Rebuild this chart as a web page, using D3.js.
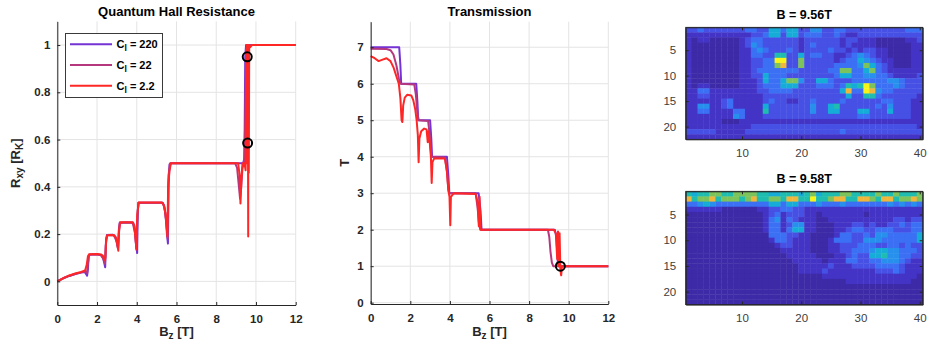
<!DOCTYPE html>
<html>
<head>
<meta charset="utf-8">
<script src="https://cdn.jsdelivr.net/npm/d3@7"></script>
<style>
  body { margin: 0; background: #fff; }
  svg { display: block; font-family: "Liberation Sans", Arial, sans-serif; }
</style>
</head>
<body>
<svg id="chart" width="928" height="344"></svg>
<script>
// ---- data ----
const bTicks = [0, 2, 4, 6, 8, 10, 12];
const rxyTicks = [0, 0.2, 0.4, 0.6, 0.8, 1];
const tTicks = [0, 1, 2, 3, 4, 5, 6, 7];
const ciLabels = ["220", "22", "2.2"];

// [Bz, Rxy]
const rxy220 = [[0,0],[0.3,0.013],[0.6,0.023],[0.9,0.031],[1.2,0.037],[1.38,0.04],[1.44,0.032],[1.5,0.024],[1.54,0.05],[1.58,0.108],[1.65,0.114],[2.0,0.115],[2.2,0.112],[2.3,0.1],[2.37,0.075],[2.41,0.06],[2.45,0.17],[2.5,0.196],[2.8,0.197],[2.92,0.19],[3.0,0.165],[3.06,0.14],[3.1,0.22],[3.14,0.248],[3.5,0.25],[3.82,0.248],[3.9,0.22],[3.96,0.16],[4.02,0.12],[4.05,0.3],[4.09,0.333],[5.3,0.333],[5.38,0.32],[5.45,0.28],[5.52,0.2],[5.57,0.16],[5.6,0.42],[5.65,0.495],[5.75,0.5],[9.35,0.5],[9.42,0.52],[9.46,0.95],[9.5,1.0],[12,1.0]];
const rxy22 = [[0,0],[0.3,0.013],[0.6,0.023],[0.9,0.031],[1.2,0.038],[1.42,0.042],[1.5,0.035],[1.55,0.08],[1.6,0.113],[2.0,0.115],[2.2,0.11],[2.32,0.095],[2.4,0.075],[2.44,0.15],[2.5,0.195],[2.85,0.195],[2.98,0.17],[3.05,0.14],[3.1,0.2],[3.15,0.248],[3.8,0.248],[3.92,0.2],[3.98,0.14],[4.03,0.25],[4.08,0.333],[5.3,0.333],[5.4,0.31],[5.5,0.24],[5.56,0.18],[5.6,0.45],[5.68,0.5],[8.95,0.5],[9.05,0.48],[9.12,0.42],[9.2,0.35],[9.26,0.4],[9.32,0.48],[9.4,0.5],[9.47,0.7],[9.52,0.98],[9.58,1.0],[12,1.0]];
const rxy2p2 = [[0,0],[0.3,0.014],[0.6,0.025],[0.9,0.033],[1.2,0.04],[1.4,0.046],[1.48,0.07],[1.54,0.105],[1.6,0.115],[2.0,0.116],[2.2,0.114],[2.3,0.108],[2.38,0.09],[2.42,0.1],[2.46,0.18],[2.52,0.195],[2.85,0.196],[2.95,0.185],[3.02,0.16],[3.07,0.13],[3.1,0.21],[3.16,0.25],[3.8,0.25],[3.88,0.235],[3.94,0.18],[3.98,0.135],[4.02,0.28],[4.1,0.334],[5.25,0.334],[5.35,0.325],[5.44,0.29],[5.5,0.24],[5.54,0.19],[5.58,0.4],[5.65,0.47],[5.72,0.5],[9.1,0.5],[9.18,0.45],[9.22,0.33],[9.26,0.42],[9.32,0.5],[9.42,0.5],[9.48,0.47],[9.5,0.98],[9.52,0.6],[9.54,1.0],[9.56,0.5],[9.58,0.98],[9.6,0.55],[9.61,0.19],[9.62,1.0],[9.64,0.46],[9.66,1.0],[9.7,0.99],[9.8,1.0],[12,1.0]];

// [Bz, T]
const tr220 = [[0,7.0],[1.0,7.0],[1.44,7.0],[1.5,6.5],[1.54,6.0],[2.3,6.0],[2.36,5.5],[2.4,5.0],[3.0,5.0],[3.06,4.5],[3.1,4.0],[3.85,4.0],[3.92,3.5],[3.97,3.0],[5.45,3.0],[5.55,2.5],[5.6,2.0],[9.3,2.0],[9.38,1.8],[9.45,1.1],[9.5,1.0],[12,1.0]];
const tr22 = [[0,6.96],[0.8,6.95],[1.0,6.92],[1.15,6.8],[1.3,6.5],[1.42,6.15],[1.5,6.0],[2.2,5.98],[2.28,5.7],[2.36,5.2],[2.42,5.0],[2.9,4.98],[2.98,4.6],[3.05,4.1],[3.1,4.0],[3.75,3.98],[3.85,3.6],[3.92,3.1],[3.97,3.0],[5.3,3.0],[5.4,2.6],[5.48,2.1],[5.55,2.0],[8.95,2.0],[9.02,1.8],[9.08,1.4],[9.15,1.1],[9.22,1.0],[12,1.0]];
const tr2p2 = [[0,6.76],[0.2,6.7],[0.4,6.62],[0.6,6.66],[0.8,6.7],[1.0,6.62],[1.15,6.45],[1.3,6.2],[1.42,6.0],[1.5,5.6],[1.56,5.0],[1.6,4.95],[1.64,5.4],[1.72,5.62],[1.85,5.7],[2.05,5.68],[2.15,5.55],[2.25,5.3],[2.32,5.0],[2.38,4.6],[2.42,3.85],[2.46,4.5],[2.55,4.7],[2.7,4.77],[2.82,4.75],[2.88,4.4],[2.92,4.7],[2.98,4.4],[3.04,4.0],[3.08,3.28],[3.12,3.85],[3.2,3.95],[3.75,3.95],[3.85,3.6],[3.93,3.05],[3.98,2.9],[4.02,2.12],[4.05,2.9],[4.12,2.95],[4.2,3.0],[5.3,2.98],[5.4,2.75],[5.46,2.1],[5.5,2.9],[5.54,2.0],[5.7,2.0],[9.25,2.0],[9.35,1.9],[9.42,1.2],[9.46,1.95],[9.5,1.0],[9.54,1.9],[9.58,0.9],[9.62,0.75],[9.66,1.0],[12,1.0]];

// marked points
const rxyMarks = [[9.56, 0.95], [9.58, 0.585]];
const trMarks = [[9.58, 1.0]];

// LDOS maps, colour level 0..9 per cell, 22 rows x 40 columns
const mapTitles = ["B = 9.56T", "B = 9.58T"];
const mapXTicks = [10, 20, 30, 40];
const mapYTicks = [5, 10, 15, 20];
const heat956 = [
  "2232222222 3322553552 2442233222 2222222333",
  "1111111111 1223552552 3332232112 2222222222",
  "1011000001 2332222221 2222221221 1100000112",
  "1000000001 2432222221 2322221211 1100000011",
  "1000000001 1343222321 2222322121 2211000011",
  "1000000001 1332266225 2332211234 3211000011",
  "1000000001 1223399227 2222212335 4321100011",
  "1000000001 1223378227 2222233334 7532100011",
  "1000000001 1233333332 2222337733 5732111111",
  "1000000001 1225333222 2222235533 4433211112",
  "1000000001 1125335774 2255322233 3333443222",
  "1011000001 1123335552 2233323656 9733343222",
  "1133111111 1122333322 2222225833 9843322222",
  "1122111111 1112222222 2222222522 6632222221",
  "1111112311 1112322112 2322223222 2223322211",
  "1144112311 1115222222 2422562222 2232422211",
  "1133111133 1116222222 2422552225 5222522211",
  "1111111143 1112222222 2222222223 3222222211",
  "1111110001 1111111111 1111111111 1111111111",
  "1111111111 1222222222 2222222222 2222222221",
  "2222211111 2222222222 2222223222 2222222222",
  "1111111111 1111111111 1111111111 1111111111"
];
const heat958 = [
  "6566776677 7766556665 6756667766 6676676667",
  "8677867776 7866776886 6966788668 8768867787",
  "3345433333 3333553553 3343334333 3333434343",
  "1111110000 0011223322 1111111111 1111111111",
  "0000000000 0001231222 1101111111 0111111111",
  "0000000000 0001341321 1100111111 1111122122",
  "0000000000 0001331244 1100011122 1211223233",
  "0000000000 0001331355 1100011233 2233322233",
  "0000000000 0000333221 1000013322 3244333335",
  "0000000000 0000133211 1000133322 4443333335",
  "0000000000 0000012211 1000112223 3322332322",
  "0000000000 0000001111 1000112233 3455443332",
  "0000000000 0000000111 1100011232 2556443322",
  "0000000000 0000000011 1110111332 2334443211",
  "0000000000 0000000001 1111211122 2233332111",
  "0000000000 0000000001 1112111111 1122232111",
  "0000000000 0000000000 0001111111 1111111110",
  "0000000000 0000000000 0000000111 1111111100",
  "0000000000 0000000000 0000000000 0000000000",
  "0000000000 0000000000 0000000000 0000000000",
  "0000000000 0000000000 0000000000 0000000000",
  "0000000000 0000000000 0000000000 0000000000"
];

// ---- styles ----
const lineColors = ["#7433d4", "#b5387f", "#ff2626"];
const gridColor = "#e4e4e4";
const axisColor = "#262626";
const parula = d3.scaleLinear()
  .domain(d3.range(10))
  .range(["#3d2aa6", "#4434c6", "#4650e4", "#3b70f4", "#2690ec", "#16acd8", "#1fbdb0", "#7cc35c", "#f0b63c", "#f8f418"]);

const svg = d3.select("#chart");

function styleAxis(sel, bold) {
  sel.attr("font-family", null).attr("font-size", 11.5)
    .attr("font-weight", bold ? "bold" : "normal");
  sel.select(".domain").attr("stroke", axisColor);
  sel.selectAll(".tick line").attr("stroke", axisColor);
  sel.selectAll(".tick text").attr("fill", bold ? axisColor : "#404040");
}

function linePanel(p) {
  const x = d3.scaleLinear().domain([0, 12]).range([p.left, p.right]);
  const y = d3.scaleLinear().domain(p.yDomain).range([p.bottom, p.top]);
  const g = svg.append("g");

  // grid
  g.append("g").selectAll("line").data(bTicks).join("line")
    .attr("x1", d => x(d)).attr("x2", d => x(d))
    .attr("y1", p.top).attr("y2", p.bottom)
    .attr("stroke", gridColor);
  g.append("g").selectAll("line").data(p.yTicks).join("line")
    .attr("x1", p.left).attr("x2", p.right)
    .attr("y1", d => y(d)).attr("y2", d => y(d))
    .attr("stroke", gridColor);

  // curves
  const line = d3.line().x(d => x(d[0])).y(d => y(d[1]));
  g.append("g").attr("fill", "none").attr("stroke-width", 2).attr("stroke-linejoin", "round")
    .selectAll("path").data(p.series).join("path")
    .attr("stroke", (d, i) => lineColors[i])
    .attr("d", line);

  // axes
  g.append("g").attr("transform", `translate(0,${p.bottom})`)
    .call(d3.axisBottom(x).tickValues(bTicks).tickSizeInner(-3).tickSizeOuter(0).tickPadding(10))
    .call(s => styleAxis(s, true));
  g.append("g").attr("transform", `translate(${p.left},0)`)
    .call(d3.axisLeft(y).tickValues(p.yTicks).tickFormat(d3.format("~g")).tickSizeInner(-3).tickSizeOuter(0).tickPadding(7))
    .call(s => styleAxis(s, true));
  g.select("g:last-of-type .domain");

  // markers
  g.append("g").selectAll("circle").data(p.marks).join("circle")
    .attr("cx", d => x(d[0])).attr("cy", d => y(d[1])).attr("r", 4.5)
    .attr("fill", "none").attr("stroke", "#000").attr("stroke-width", 2);

  // title
  g.append("text").attr("x", (p.left + p.right) / 2).attr("y", 16)
    .attr("text-anchor", "middle").attr("font-weight", "bold").attr("font-size", 13)
    .attr("fill", "#000").text(p.title);

  // x label
  const xl = g.append("text").attr("x", (p.left + p.right) / 2).attr("y", 336)
    .attr("text-anchor", "middle").attr("font-weight", "bold").attr("font-size", 13)
    .attr("fill", axisColor);
  xl.append("tspan").text("B");
  xl.append("tspan").attr("font-size", 10).attr("dy", 3).text("z");
  xl.append("tspan").attr("dy", -3).text(" [T]");

  // y label
  const yl = g.append("text")
    .attr("transform", `translate(${p.yLabelX},${(p.top + p.bottom) / 2}) rotate(-90)`)
    .attr("text-anchor", "middle").attr("font-weight", "bold").attr("font-size", 13)
    .attr("fill", axisColor);
  p.yLabel.forEach(([t, sub]) => {
    yl.append("tspan").attr("font-size", sub ? 10 : 13).attr("dy", sub ? 3 : (yl.selectAll("tspan").size() ? -3 : 0)).text(t);
  });
  return { g, x, y };
}

const left = linePanel({
  left: 57.3, right: 295.7, top: 21.4, bottom: 305,
  yDomain: [-0.1, 1.1], yTicks: rxyTicks,
  series: [rxy220, rxy22, rxy2p2], marks: rxyMarks,
  title: "Quantum Hall Resistance",
  yLabelX: 23, yLabel: [["R", false], ["xy", true], [" [R", false], ["K", true], ["]", false]]
});

linePanel({
  left: 370.7, right: 608.3, top: 21.7, bottom: 304,
  yDomain: [-0.036, 7.7], yTicks: tTicks,
  series: [tr220, tr22, tr2p2], marks: trMarks,
  title: "Transmission",
  yLabelX: 352, yLabel: [["T", false]]
});

// legend
const leg = left.g.append("g");
leg.append("rect").attr("x", 65.5).attr("y", 33.5).attr("width", 97).attr("height", 64)
  .attr("fill", "#fff").attr("stroke", "#3a3a3a");
const rows = leg.selectAll("g.item").data(ciLabels).join("g").attr("class", "item")
  .attr("transform", (d, i) => `translate(0,${44.3 + i * 20.7})`);
rows.append("line").attr("x1", 70).attr("x2", 112).attr("stroke-width", 2)
  .attr("stroke", (d, i) => lineColors[i]);
const lt = rows.append("text").attr("x", 116.5).attr("y", 4)
  .attr("font-weight", "bold").attr("font-size", 11).attr("fill", "#000");
lt.append("tspan").text("C");
lt.append("tspan").attr("font-size", 8.5).attr("dy", 3).text("l");
lt.append("tspan").attr("dy", -3).text(d => " = " + d);

// heat maps
function heatPanel(rowsData, top, bottom, title) {
  const x = d3.scaleLinear().domain([0.5, 40.5]).range([685.7, 922.7]);
  const y = d3.scaleLinear().domain([0.5, 22.5]).range([top, bottom]);
  const cells = rowsData.flatMap((r, i) =>
    r.replace(/ /g, "").split("").map((v, j) => ({ row: i + 1, col: j + 1, v: +v })));
  const g = svg.append("g");
  g.append("g").selectAll("rect").data(cells).join("rect")
    .attr("x", d => x(d.col - 0.5)).attr("y", d => y(d.row - 0.5))
    .attr("width", x(1.5) - x(0.5) + 0.4).attr("height", y(1.5) - y(0.5) + 0.4)
    .attr("fill", d => parula(d.v));
  g.append("rect").attr("x", x(0.5)).attr("y", y(0.5))
    .attr("width", x(40.5) - x(0.5)).attr("height", y(22.5) - y(0.5))
    .attr("fill", "none").attr("stroke", axisColor).attr("stroke-width", 0.8);
  g.append("g").attr("transform", `translate(0,${bottom})`)
    .call(d3.axisBottom(x).tickValues(mapXTicks).tickSizeInner(-3).tickSizeOuter(0).tickPadding(9.5))
    .call(s => styleAxis(s, false));
  g.append("g").attr("transform", `translate(${x(0.5)},0)`)
    .call(d3.axisLeft(y).tickValues(mapYTicks).tickSizeInner(-3).tickSizeOuter(0).tickPadding(9.5))
    .call(s => styleAxis(s, false));
  g.append("g").attr("transform", `translate(0,${top})`)
    .call(d3.axisTop(x).tickValues(mapXTicks).tickFormat("").tickSizeInner(-3).tickSizeOuter(0))
    .call(s => styleAxis(s, false));
  g.append("g").attr("transform", `translate(${x(40.5)},0)`)
    .call(d3.axisRight(y).tickValues(mapYTicks).tickFormat("").tickSizeInner(-3).tickSizeOuter(0))
    .call(s => styleAxis(s, false));
  g.append("text").attr("x", (x(0.5) + x(40.5)) / 2).attr("y", top - 8)
    .attr("text-anchor", "middle").attr("font-weight", "bold").attr("font-size", 12.5)
    .attr("fill", "#000").text(title);
}

heatPanel(heat956, 27.3, 139.3, mapTitles[0]);
heatPanel(heat958, 191.3, 304.6, mapTitles[1]);
</script>
</body>
</html>
